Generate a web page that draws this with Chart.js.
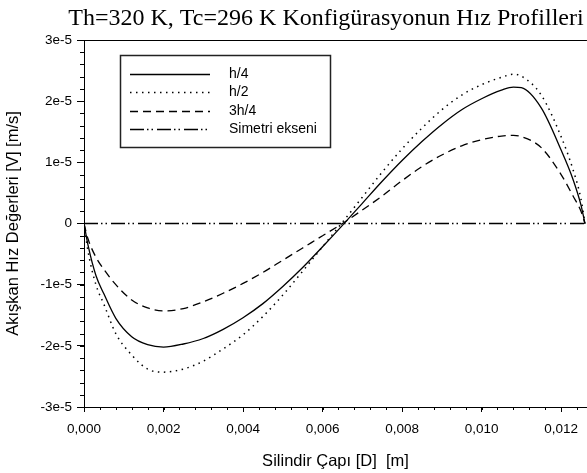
<!DOCTYPE html>
<html><head><meta charset="utf-8">
<script src="https://cdn.jsdelivr.net/npm/chart.js@4/dist/chart.umd.min.js"></script>
<style>html,body{margin:0;padding:0;background:#fff}canvas{display:block}</style>
</head><body>
<canvas id="c" width="587" height="473"></canvas>
<script>
const TITLE = 'Th=320 K, Tc=296 K Konfigürasyonun Hız Profilleri';
const X_TITLE = 'Silindir Çapı [D]  [m]';
const Y_TITLE = 'Akışkan Hız Değerleri [V] [m/s]';
const UNIT = 1e-5;
const xValues = [0, 0.0001, 0.0003, 0.0005, 0.0008, 0.0012, 0.0016, 0.002, 0.0025, 0.003, 0.0035, 0.004, 0.0045, 0.005, 0.0055, 0.006, 0.0065, 0.007, 0.0075, 0.008, 0.0085, 0.009, 0.0095, 0.01, 0.0105, 0.0108, 0.011, 0.0115, 0.012, 0.0123, 0.0125, 0.0126];
const h4 = [0,-0.35,-0.85,-1.15,-1.55,-1.85,-1.98,-2.02,-1.97,-1.88,-1.73,-1.54,-1.31,-1.03,-0.72,-0.38,-0.03,0.33,0.69,1.03,1.34,1.62,1.86,2.04,2.18,2.23,2.22,1.89,1.2,0.72,0.3,0];
const h2 = [0,-0.45,-1.0,-1.32,-1.8,-2.15,-2.38,-2.43,-2.38,-2.25,-2.05,-1.82,-1.52,-1.17,-0.78,-0.38,0.02,0.43,0.84,1.22,1.56,1.86,2.1,2.27,2.39,2.44,2.41,2.1,1.42,0.88,0.4,0];
const h34 = [0,-0.25,-0.55,-0.75,-1.0,-1.25,-1.38,-1.43,-1.39,-1.28,-1.14,-0.98,-0.8,-0.6,-0.4,-0.2,0.0,0.22,0.45,0.7,0.93,1.12,1.27,1.37,1.43,1.44,1.42,1.24,0.8,0.45,0.2,0];
const symX = [0, 0.0127];
const symY = [0, 0];
const seriesLabels = ['h/4', 'h/2', '3h/4', 'Simetri ekseni'];
const xTickStep = 0.002, xMinorStep = 0.0004;
const yTickStep = 1e-5, yMinorStep = 2e-6;
const xMin = 0, xMax = 0.01265, yMin = -3e-5, yMax = 3e-5;

const toPts = (xs, ys, u) => xs.map((x, i) => ({x: x, y: ys[i] * u}));

const SANS = '"Liberation Sans", Arial, sans-serif';

const decor = {
  id: 'decor',
  afterDraw(chart) {
    const c = chart.ctx, a = chart.chartArea;
    const xs = chart.scales.x, ys = chart.scales.y;
    c.save();
    c.strokeStyle = '#000'; c.lineWidth = 1;
    c.beginPath(); c.moveTo(a.left, a.top + 0.5); c.lineTo(a.right, a.top + 0.5); c.stroke();
    c.beginPath();
    for (let v = xMin; v <= xMax + 1e-12; v += xMinorStep) {
      const px = Math.round(xs.getPixelForValue(v)) + 0.5;
      c.moveTo(px, a.bottom); c.lineTo(px, a.bottom + 3);
    }
    for (let v = yMin; v <= yMax + 1e-15; v += yMinorStep) {
      const py = Math.round(ys.getPixelForValue(v)) + 0.5;
      c.moveTo(a.left, py); c.lineTo(a.left - 4, py);
    }
    c.stroke();
    const bx = 120, by = 55, bw = 210, bh = 92;
    c.fillStyle = '#fff'; c.fillRect(bx, by, bw, bh);
    c.strokeStyle = '#222'; c.lineWidth = 1.5;
    c.strokeRect(bx + 0.5, by + 0.5, bw, bh);
    const rows = [74, 92, 111, 129];
    chart.data.datasets.forEach((ds, i) => {
      c.save();
      c.strokeStyle = ds.borderColor; c.lineWidth = ds.borderWidth;
      c.setLineDash(ds.borderDash || []);
      c.beginPath(); c.moveTo(130, rows[i] + 0.5); c.lineTo(210, rows[i] + 0.5); c.stroke();
      c.restore();
      c.fillStyle = '#000'; c.font = '14px ' + SANS;
      c.textBaseline = 'middle'; c.textAlign = 'left';
      c.fillText(ds.label, 229, rows[i]);
    });
    c.fillStyle = '#000'; c.font = '24px "Liberation Serif", serif';
    c.textAlign = 'center'; c.textBaseline = 'alphabetic';
    c.fillText(TITLE, 326, 25);
    c.restore();
  }
};

new Chart(document.getElementById('c'), {
  type: 'line',
  data: {
    datasets: [
      {label: seriesLabels[0], data: toPts(xValues, h4, UNIT), borderColor: '#000', borderWidth: 1.3, borderDash: [], pointRadius: 0, cubicInterpolationMode: 'monotone', fill: false},
      {label: seriesLabels[1], data: toPts(xValues, h2, UNIT), borderColor: '#000', borderWidth: 1.5, borderDash: [1.5, 4.5], pointRadius: 0, cubicInterpolationMode: 'monotone', fill: false},
      {label: seriesLabels[2], data: toPts(xValues, h34, UNIT), borderColor: '#000', borderWidth: 1.3, borderDash: [8, 5], pointRadius: 0, cubicInterpolationMode: 'monotone', fill: false},
      {label: seriesLabels[3], data: toPts(symX, symY, 1), borderColor: '#000', borderWidth: 1.3, borderDash: [14, 3, 1.5, 3, 1.5, 4], pointRadius: 0, fill: false}
    ]
  },
  options: {
    responsive: false, animation: false, devicePixelRatio: 1,
    layout: {padding: {top: 40, right: 0, left: 0, bottom: 0}},
    plugins: {legend: {display: false}, tooltip: {enabled: false}, title: {display: false}},
    scales: {
      x: {
        type: 'linear', min: xMin, max: xMax,
        ticks: {stepSize: xTickStep, includeBounds: false, color: '#000', padding: 9, maxRotation: 0,
          font: {family: SANS, size: 13.5},
          callback: v => (Math.round(v / 0.001) * 0.001).toFixed(3).replace('.', ',')},
        grid: {drawOnChartArea: false, drawTicks: true, tickLength: 5, color: '#000', lineWidth: 1},
        border: {display: true, color: '#000', width: 1},
        title: {display: true, text: X_TITLE, color: '#000', font: {family: SANS, size: 16.5}, padding: {top: 0, bottom: 2}},
        afterFit: s => { s.height = 66; }
      },
      y: {
        type: 'linear', min: yMin, max: yMax,
        ticks: {stepSize: yTickStep, color: '#000', padding: 5,
          font: {family: SANS, size: 13.5},
          callback: v => { const n = Math.round(v / 1e-5); return n === 0 ? '0' : n + 'e-5'; }},
        grid: {drawOnChartArea: false, drawTicks: true, tickLength: 7, color: '#000', lineWidth: 1},
        border: {display: true, color: '#000', width: 1},
        title: {display: true, text: Y_TITLE, color: '#000', font: {family: SANS, size: 16.5}, padding: {top: 4, bottom: 0}},
        afterFit: s => { s.width = 84; }
      }
    }
  },
  plugins: [decor]
});
</script>
</body></html>
